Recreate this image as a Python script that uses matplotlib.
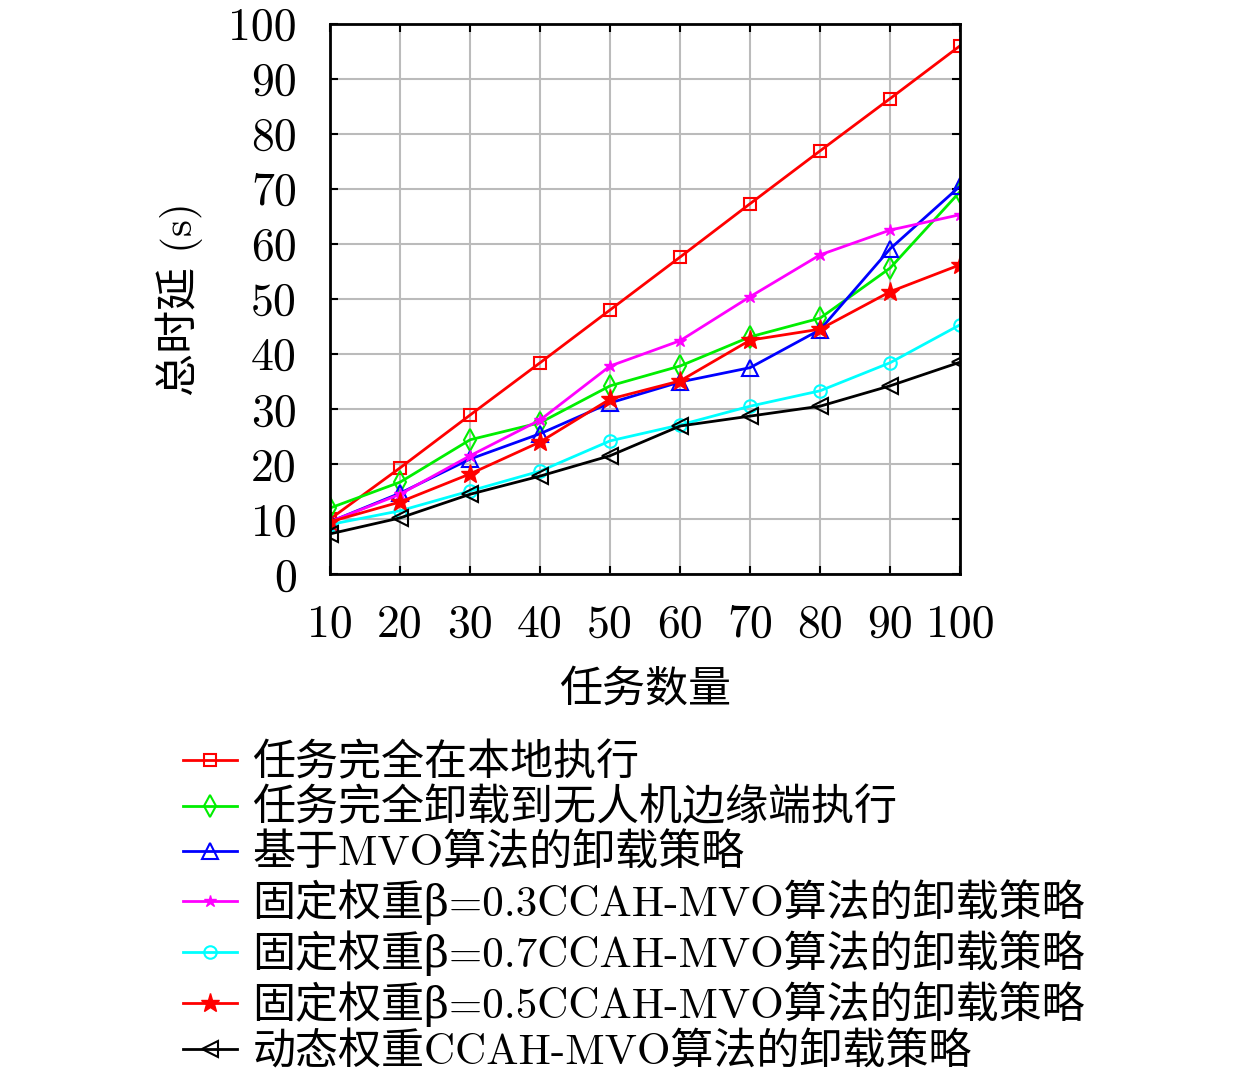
import numpy as np
import matplotlib
matplotlib.use('Agg')
import matplotlib.pyplot as plt

plt.rcParams['font.family'] = ['cmr10', 'DejaVu Serif', 'Noto Sans CJK SC']
plt.rcParams['axes.unicode_minus'] = False

# 数据
tasks = [10, 20, 30, 40, 50, 60, 70, 80, 90, 100]
local_all = [10.0, 19.3, 28.9, 38.4, 48.0, 57.6, 67.3, 76.9, 86.4, 96.0]
uav_all = [12.0, 16.7, 24.4, 27.5, 34.2, 37.8, 43.1, 46.5, 55.6, 69.5]
mvo = [9.5, 14.7, 20.9, 25.5, 31.1, 34.9, 37.5, 44.4, 59.1, 70.5]
beta03 = [9.5, 14.5, 21.5, 28.0, 37.8, 42.4, 50.4, 58.0, 62.5, 65.3]
beta07 = [9.0, 11.5, 15.1, 18.7, 24.2, 27.1, 30.5, 33.3, 38.4, 45.3]
beta05 = [9.5, 13.1, 18.2, 24.0, 31.8, 35.1, 42.5, 44.5, 51.3, 56.2]
dynamic = [7.3, 10.2, 14.5, 17.8, 21.5, 26.9, 28.7, 30.5, 34.2, 38.5]

labels = ['任务完全在本地执行',
          '任务完全卸载到无人机边缘端执行',
          '基于MVO算法的卸载策略',
          '固定权重β=0.3CCAH-MVO算法的卸载策略',
          '固定权重β=0.7CCAH-MVO算法的卸载策略',
          '固定权重β=0.5CCAH-MVO算法的卸载策略',
          '动态权重CCAH-MVO算法的卸载策略']

fig = plt.figure(figsize=(12.6, 10.78), dpi=100)
ax = fig.add_axes([0.262, 0.4675, 0.5, 0.5105])

lw = 2
ms = 9
ax.plot(tasks, local_all, color='red', marker='s', mfc='none', mew=1.5, ms=ms, lw=lw, label=labels[0])
ax.plot(tasks, uav_all, color='#00ee00', marker='d', mfc='none', mew=1.5, ms=ms + 2, lw=lw, label=labels[1])
ax.plot(tasks, mvo, color='blue', marker='^', mfc='none', mew=1.5, ms=ms + 2, lw=lw, label=labels[2])
ax.plot(tasks, beta03, color='magenta', marker='*', ms=ms, lw=lw, label=labels[3])
ax.plot(tasks, beta07, color='cyan', marker='o', mfc='none', mew=1.5, ms=ms, lw=lw, label=labels[4])
ax.plot(tasks, beta05, color='red', marker='*', ms=ms + 5, lw=lw, label=labels[5])
ax.plot(tasks, dynamic, color='black', marker='<', mfc='none', mew=1.5, ms=ms + 2, lw=lw, label=labels[6])

ax.set_xlim(10, 100)
ax.set_ylim(0, 100)
ax.set_xticks(tasks)
ax.set_yticks(np.arange(0, 101, 10))
ax.grid(True, color='#bbbbbb', linewidth=1.5)
ax.tick_params(direction='in', length=6, width=1.5, labelsize=33,
               top=True, right=True)
ax.tick_params(axis='y', pad=24)
ax.tick_params(axis='x', pad=22)
for s in ax.spines.values():
    s.set_linewidth(2)

ax.set_xlabel('任务数量', fontsize=31, labelpad=17)
ax.set_ylabel('总时延 (s)', fontsize=31, labelpad=18)

fig.legend(loc='upper left', bbox_to_anchor=(0.145, 0.311), frameon=False,
           fontsize=31, handlelength=1.25, handletextpad=0.37,
           labelspacing=0.12, borderpad=0, borderaxespad=0)

plt.savefig('out.png', dpi=100)
